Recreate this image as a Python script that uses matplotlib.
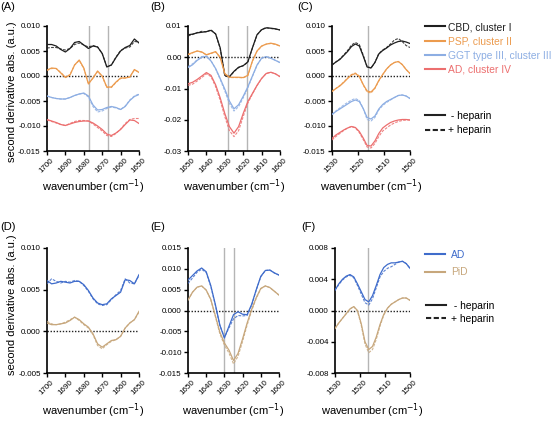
import matplotlib
matplotlib.use("Agg")
import matplotlib.pyplot as plt
from matplotlib.lines import Line2D

plt.rcParams['font.family'] = ['Liberation Sans', 'DejaVu Sans']
plt.rcParams['axes.unicode_minus'] = False

# ---------------- data ----------------
wn_amide = [1700, 1697.5, 1695, 1692.5, 1690, 1687.5, 1685, 1682.5, 1680, 1677.5, 1675,
            1672.5, 1670, 1667.5, 1665, 1662.5, 1660, 1657.5, 1655, 1652.5, 1650]
wn_beta = [1650, 1647.5, 1645, 1642.5, 1640, 1637.5, 1635, 1632.5, 1630, 1627.5, 1625,
           1622.5, 1620, 1617.5, 1615, 1612.5, 1610, 1607.5, 1605, 1602.5, 1600]
wn_tyr = [1530, 1528.5, 1527, 1525.5, 1524, 1522.5, 1521, 1519.5, 1518, 1516.5, 1515,
          1513.5, 1512, 1510.5, 1509, 1507.5, 1506, 1504.5, 1503, 1501.5, 1500]

# Panel A
A_cbd_m = [0.0063, 0.0063, 0.0060, 0.0053, 0.0048, 0.0055, 0.0067, 0.0069, 0.0062, 0.0055, 0.0060,
           0.0058, 0.0045, 0.0018, 0.0022, 0.0037, 0.0050, 0.0057, 0.0061, 0.0074, 0.0066]
A_cbd_p = [0.0056, 0.0057, 0.0057, 0.0054, 0.0052, 0.0055, 0.0063, 0.0066, 0.0062, 0.0058, 0.0061,
           0.0058, 0.0045, 0.0019, 0.0022, 0.0038, 0.0051, 0.0056, 0.0058, 0.0069, 0.0068]
A_psp_m = [0.0012, 0.0016, 0.0015, 0.0006, -0.0003, 0.0002, 0.0022, 0.0032, 0.0016, -0.0016, -0.0004,
           0.0010, 0.0000, -0.0022, -0.0022, -0.0012, -0.0004, -0.0004, -0.0002, 0.0013, 0.0007]
A_psp_p = [0.0011, 0.0015, 0.0015, 0.0007, -0.0002, 0.0003, 0.0022, 0.0031, 0.0015, -0.0015, -0.0004,
           0.0009, -0.0001, -0.0023, -0.0023, -0.0013, -0.0005, -0.0004, -0.0002, 0.0012, 0.0008]
A_ggt_m = [-0.0040, -0.0043, -0.0045, -0.0046, -0.0046, -0.0043, -0.0039, -0.0036, -0.0034, -0.0040, -0.0058,
           -0.0068, -0.0067, -0.0063, -0.0061, -0.0063, -0.0067, -0.0061, -0.0049, -0.0041, -0.0037]
A_ggt_p = [-0.0040, -0.0043, -0.0045, -0.0046, -0.0046, -0.0043, -0.0039, -0.0036, -0.0035, -0.0042, -0.0061,
           -0.0072, -0.0070, -0.0065, -0.0062, -0.0064, -0.0067, -0.0060, -0.0048, -0.0040, -0.0036]
A_ad_m = [-0.0087, -0.0090, -0.0093, -0.0097, -0.0099, -0.0096, -0.0093, -0.0091, -0.0090, -0.0090, -0.0094,
          -0.0100, -0.0107, -0.0116, -0.0119, -0.0114, -0.0107, -0.0097, -0.0088, -0.0089, -0.0095]
A_ad_p = [-0.0088, -0.0091, -0.0094, -0.0097, -0.0099, -0.0095, -0.0091, -0.0089, -0.0089, -0.0090, -0.0096,
          -0.0103, -0.0110, -0.0119, -0.0121, -0.0115, -0.0106, -0.0095, -0.0087, -0.0085, -0.0085]

# Panel B
B_cbd_m = [0.0072, 0.0074, 0.0078, 0.0080, 0.0082, 0.0086, 0.0075, 0.0030, -0.0058, -0.0062, -0.0045,
           -0.0032, -0.0027, -0.0015, 0.0030, 0.0072, 0.0088, 0.0094, 0.0093, 0.0091, 0.0087]
B_cbd_p = [0.0068, 0.0073, 0.0079, 0.0083, 0.0081, 0.0088, 0.0074, 0.0028, -0.0060, -0.0064, -0.0046,
           -0.0033, -0.0027, -0.0016, 0.0029, 0.0071, 0.0089, 0.0095, 0.0092, 0.0090, 0.0088]
B_psp_m = [0.0009, 0.0015, 0.0020, 0.0017, 0.0008, 0.0013, 0.0018, 0.0000, -0.0052, -0.0064, -0.0064,
           -0.0064, -0.0065, -0.0058, -0.0012, 0.0020, 0.0036, 0.0042, 0.0045, 0.0042, 0.0036]
B_psp_p = [0.0008, 0.0014, 0.0020, 0.0016, 0.0007, 0.0012, 0.0017, -0.0002, -0.0054, -0.0065, -0.0065,
           -0.0065, -0.0066, -0.0059, -0.0013, 0.0019, 0.0035, 0.0042, 0.0044, 0.0041, 0.0036]
B_ggt_m = [-0.0033, -0.0024, -0.0010, 0.0000, 0.0003, -0.0012, -0.0036, -0.0068, -0.0102, -0.0140, -0.0165,
           -0.0152, -0.0125, -0.0095, -0.0060, -0.0025, -0.0003, 0.0002, -0.0003, -0.0010, -0.0017]
B_ggt_p = [-0.0030, -0.0021, -0.0008, 0.0002, 0.0004, -0.0011, -0.0037, -0.0071, -0.0108, -0.0148, -0.0172,
           -0.0158, -0.0130, -0.0098, -0.0062, -0.0026, -0.0003, 0.0002, -0.0003, -0.0010, -0.0017]
B_ad_m = [-0.0085, -0.0080, -0.0071, -0.0060, -0.0049, -0.0058, -0.0088, -0.0130, -0.0180, -0.0222, -0.0243,
          -0.0222, -0.0180, -0.0142, -0.0116, -0.0090, -0.0068, -0.0052, -0.0048, -0.0053, -0.0062]
B_ad_p = [-0.0090, -0.0086, -0.0076, -0.0065, -0.0053, -0.0062, -0.0094, -0.0138, -0.0190, -0.0235, -0.0254,
          -0.0235, -0.0190, -0.0147, -0.0118, -0.0091, -0.0068, -0.0052, -0.0048, -0.0053, -0.0062]

# Panel C
C_cbd_m = [0.0022, 0.0028, 0.0033, 0.0041, 0.0049, 0.0059, 0.0064, 0.0060, 0.0040, 0.0018, 0.0016,
           0.0027, 0.0044, 0.0051, 0.0056, 0.0062, 0.0066, 0.0069, 0.0070, 0.0068, 0.0065]
C_cbd_p = [0.0022, 0.0028, 0.0034, 0.0042, 0.0051, 0.0062, 0.0067, 0.0063, 0.0042, 0.0019, 0.0016,
           0.0027, 0.0045, 0.0052, 0.0057, 0.0064, 0.0072, 0.0075, 0.0069, 0.0061, 0.0057]
C_psp_m = [-0.0031, -0.0025, -0.0020, -0.0013, -0.0005, 0.0002, 0.0005, -0.0001, -0.0017, -0.0030, -0.0032,
           -0.0024, -0.0009, 0.0003, 0.0014, 0.0022, 0.0027, 0.0029, 0.0023, 0.0013, 0.0005]
C_psp_p = [-0.0031, -0.0025, -0.0019, -0.0012, -0.0004, 0.0003, 0.0006, 0.0000, -0.0018, -0.0032, -0.0034,
           -0.0025, -0.0010, 0.0003, 0.0014, 0.0022, 0.0027, 0.0029, 0.0023, 0.0013, 0.0005]
C_ggt_m = [-0.0077, -0.0071, -0.0066, -0.0061, -0.0056, -0.0051, -0.0048, -0.0051, -0.0065, -0.0083, -0.0086,
           -0.0080, -0.0066, -0.0057, -0.0051, -0.0047, -0.0043, -0.0039, -0.0038, -0.0040, -0.0045]
C_ggt_p = [-0.0077, -0.0070, -0.0064, -0.0058, -0.0053, -0.0048, -0.0045, -0.0049, -0.0065, -0.0087, -0.0090,
           -0.0083, -0.0068, -0.0059, -0.0053, -0.0048, -0.0043, -0.0039, -0.0038, -0.0040, -0.0045]
C_ad_m = [-0.0125, -0.0118, -0.0113, -0.0108, -0.0104, -0.0101, -0.0103, -0.0111, -0.0124, -0.0139, -0.0140,
          -0.0130, -0.0115, -0.0104, -0.0098, -0.0093, -0.0090, -0.0088, -0.0087, -0.0087, -0.0088]
C_ad_p = [-0.0128, -0.0121, -0.0115, -0.0109, -0.0104, -0.0101, -0.0104, -0.0113, -0.0127, -0.0142, -0.0144,
          -0.0135, -0.0121, -0.0110, -0.0104, -0.0098, -0.0094, -0.0091, -0.0089, -0.0088, -0.0088]

# Panel D
D_ad_m = [0.0061, 0.0057, 0.0058, 0.0060, 0.0059, 0.0058, 0.0060, 0.0060, 0.0056, 0.0049, 0.0040,
          0.0034, 0.0032, 0.0033, 0.0039, 0.0043, 0.0047, 0.0062, 0.0061, 0.0057, 0.0068]
D_ad_p = [0.0057, 0.0063, 0.0060, 0.0058, 0.0060, 0.0059, 0.0061, 0.0060, 0.0055, 0.0048, 0.0039,
          0.0033, 0.0031, 0.0032, 0.0038, 0.0044, 0.0049, 0.0063, 0.0058, 0.0057, 0.0067]
D_pid_m = [0.0010, 0.0008, 0.0008, 0.0009, 0.0010, 0.0013, 0.0017, 0.0014, 0.0009, 0.0005, -0.0003,
           -0.0015, -0.0019, -0.0015, -0.0011, -0.0010, -0.0006, 0.0004, 0.0010, 0.0014, 0.0024]
D_pid_p = [0.0012, 0.0009, 0.0008, 0.0009, 0.0011, 0.0014, 0.0017, 0.0013, 0.0008, 0.0004, -0.0004,
           -0.0017, -0.0021, -0.0016, -0.0012, -0.0010, -0.0006, 0.0004, 0.0010, 0.0014, 0.0023]

# Panel E
E_ad_m = [0.0073, 0.0084, 0.0095, 0.0102, 0.0093, 0.0060, 0.0015, -0.0035, -0.0066, -0.0038, -0.0010,
          -0.0003, -0.0009, -0.0010, 0.0015, 0.0050, 0.0082, 0.0096, 0.0097, 0.0090, 0.0085]
E_ad_p = [0.0065, 0.0078, 0.0092, 0.0099, 0.0091, 0.0058, 0.0013, -0.0036, -0.0064, -0.0042, -0.0020,
          -0.0012, -0.0013, -0.0012, 0.0013, 0.0049, 0.0081, 0.0096, 0.0097, 0.0090, 0.0085]
E_pid_m = [0.0025, 0.0044, 0.0056, 0.0059, 0.0049, 0.0027, -0.0012, -0.0052, -0.0078, -0.0095, -0.0120,
           -0.0103, -0.0068, -0.0030, 0.0003, 0.0031, 0.0053, 0.0059, 0.0055, 0.0046, 0.0037]
E_pid_p = [0.0025, 0.0044, 0.0056, 0.0059, 0.0049, 0.0026, -0.0014, -0.0056, -0.0083, -0.0102, -0.0128,
           -0.0110, -0.0074, -0.0035, 0.0000, 0.0029, 0.0052, 0.0059, 0.0055, 0.0046, 0.0037]

# Panel F
F_ad_m = [0.0026, 0.0034, 0.0040, 0.0044, 0.0046, 0.0043, 0.0034, 0.0024, 0.0014, 0.0011, 0.0019,
          0.0032, 0.0046, 0.0055, 0.0059, 0.0061, 0.0061, 0.0062, 0.0063, 0.0060, 0.0054]
F_ad_p = [0.0026, 0.0033, 0.0039, 0.0043, 0.0045, 0.0042, 0.0032, 0.0021, 0.0010, 0.0007, 0.0015,
          0.0029, 0.0043, 0.0050, 0.0054, 0.0056, 0.0059, 0.0062, 0.0063, 0.0060, 0.0054]
F_pid_m = [-0.0023, -0.0016, -0.0010, -0.0004, 0.0002, 0.0005, 0.0000, -0.0017, -0.0040, -0.0050, -0.0046,
           -0.0034, -0.0018, -0.0005, 0.0003, 0.0008, 0.0011, 0.0014, 0.0016, 0.0016, 0.0013]
F_pid_p = [-0.0023, -0.0016, -0.0010, -0.0004, 0.0002, 0.0005, -0.0001, -0.0019, -0.0043, -0.0054, -0.0050,
           -0.0037, -0.0020, -0.0006, 0.0003, 0.0008, 0.0011, 0.0014, 0.0016, 0.0016, 0.0013]

top_labels = ["CBD, cluster I", "PSP, cluster II", "GGT type III, cluster III", "AD, cluster IV"]
bottom_labels = ["AD", "PiD"]
heparin_labels = [" - heparin", "+ heparin"]

top_colors = ["#1f1f1f", "#EC9B4E", "#8DAEE3", "#EC6F6F"]
bottom_colors = ["#3F6CCB", "#C7A77C"]

vlines_A = [1677, 1667]
vlines_B = [1628, 1618]
vlines_C = [1516]
vlines_E = [1630, 1625]
vlines_F = [1517]

# ---------------- figure ----------------
W, H = 558, 422
fig = plt.figure(figsize=(W / 100, H / 100), dpi=100)

TICK_FS = 5.8
LAB_FS = 8.0


def add_ax(x0, x1, y0, y1):
    return fig.add_axes([x0 / W, 1 - y1 / H, (x1 - x0) / W, (y1 - y0) / H])


def style(ax, xlim, xticks, ylim, yticks, yfmt, lpad):
    ax.set_xlim(*xlim)
    ax.set_ylim(*ylim)
    ax.set_xticks(xticks)
    ax.set_xticklabels([str(t) for t in xticks], rotation=45, fontsize=TICK_FS)
    ax.set_yticks(yticks)
    ax.set_yticklabels([yfmt.format(t) for t in yticks], fontsize=TICK_FS)
    for s in ["top", "right"]:
        ax.spines[s].set_visible(False)
    for s in ["left", "bottom"]:
        ax.spines[s].set_linewidth(1.2)
    ax.tick_params(width=1.0, length=3, pad=1.5)
    ax.axhline(0, color="#222222", lw=1.0, ls=(0, (1, 1.2)), zorder=1)
    ax.set_xlabel("wavenumber (cm$^{-1}$)", fontsize=LAB_FS, labelpad=lpad)


def draw(ax, wn, pairs, colors, vl):
    for v in vl:
        ax.axvline(v, color="#b5b5b5", lw=1.0, zorder=0)
    for (m, p), c in zip(pairs, colors):
        ax.plot(wn, m, color=c, lw=0.9, zorder=3)
        ax.plot(wn, p, color=c, lw=0.8, ls=(0, (2.5, 1.2)), zorder=3, alpha=0.85)


TOP_PAD = 1.5
BOT_PAD = 3.5

axA = add_ax(47, 139, 26, 151)
draw(axA, wn_amide, [(A_cbd_m, A_cbd_p), (A_psp_m, A_psp_p), (A_ggt_m, A_ggt_p), (A_ad_m, A_ad_p)],
     top_colors, vlines_A)
style(axA, (1700, 1650), [1700, 1690, 1680, 1670, 1660, 1650], (-0.015, 0.010),
      [0.010, 0.005, 0.000, -0.005, -0.010, -0.015], "{:.3f}", TOP_PAD)

axB = add_ax(188, 280, 26, 151)
draw(axB, wn_beta, [(B_cbd_m, B_cbd_p), (B_psp_m, B_psp_p), (B_ggt_m, B_ggt_p), (B_ad_m, B_ad_p)],
     top_colors, vlines_B)
style(axB, (1650, 1600), [1650, 1640, 1630, 1620, 1610, 1600], (-0.03, 0.01),
      [0.01, 0.00, -0.01, -0.02, -0.03], "{:.2f}", TOP_PAD)

axC = add_ax(332, 410, 26, 151)
draw(axC, wn_tyr, [(C_cbd_m, C_cbd_p), (C_psp_m, C_psp_p), (C_ggt_m, C_ggt_p), (C_ad_m, C_ad_p)],
     top_colors, vlines_C)
style(axC, (1530, 1500), [1530, 1520, 1510, 1500], (-0.015, 0.010),
      [0.010, 0.005, 0.000, -0.005, -0.010, -0.015], "{:.3f}", TOP_PAD)

axD = add_ax(47, 139, 248, 373)
draw(axD, wn_amide, [(D_ad_m, D_ad_p), (D_pid_m, D_pid_p)], bottom_colors, [])
style(axD, (1700, 1650), [1700, 1690, 1680, 1670, 1660, 1650], (-0.005, 0.010),
      [0.010, 0.005, 0.000, -0.005], "{:.3f}", BOT_PAD)

axE = add_ax(188, 279, 248, 373)
draw(axE, wn_beta, [(E_ad_m, E_ad_p), (E_pid_m, E_pid_p)], bottom_colors, vlines_E)
style(axE, (1650, 1600), [1650, 1640, 1630, 1620, 1610, 1600], (-0.015, 0.015),
      [0.015, 0.010, 0.005, 0.000, -0.005, -0.010, -0.015], "{:.3f}", BOT_PAD)

axF = add_ax(335, 410, 248, 373)
draw(axF, wn_tyr, [(F_ad_m, F_ad_p), (F_pid_m, F_pid_p)], bottom_colors, vlines_F)
style(axF, (1530, 1500), [1530, 1520, 1510, 1500], (-0.008, 0.008),
      [0.008, 0.004, 0.000, -0.004, -0.008], "{:.3f}", BOT_PAD)

fig.text(12 / W, 1 - 92 / H, "second derivative abs. (a.u.)", rotation=90, fontsize=8.0,
         ha="center", va="center")
fig.text(12 / W, 1 - 305 / H, "second derivative abs. (a.u.)", rotation=90, fontsize=8.0,
         ha="center", va="center")

for lab, (x, y) in zip(["(A)", "(B)", "(C)", "(D)", "(E)", "(F)"],
                       [(0, 7), (150, 7), (297, 7), (0, 227), (150, 227), (301, 227)]):
    fig.text(x / W, 1 - y / H, lab, fontsize=8, ha="left", va="center")

# legends
LEG_FS = 7.4
h_top = [Line2D([], [], color=c, lw=1.5) for c in top_colors]
leg1 = fig.legend(h_top, top_labels, loc="upper left", bbox_to_anchor=(425 / W, 1 - 22 / H),
                  frameon=False, fontsize=LEG_FS, handlelength=1.9, handletextpad=0.3,
                  labelspacing=0.42, borderpad=0, borderaxespad=0)
for t, c in zip(leg1.get_texts(), top_colors):
    t.set_color(c)
h_hep = [Line2D([], [], color="#222222", lw=1.5),
         Line2D([], [], color="#222222", lw=1.5, ls=(0, (2.5, 1.2)))]
fig.legend(h_hep, heparin_labels, loc="upper left", bbox_to_anchor=(425 / W, 1 - 111 / H),
           frameon=False, fontsize=LEG_FS, handlelength=1.9, handletextpad=0.3,
           labelspacing=0.4, borderpad=0, borderaxespad=0)

h_bot = [Line2D([], [], color=c, lw=1.5) for c in bottom_colors]
leg3 = fig.legend(h_bot, bottom_labels, loc="upper left", bbox_to_anchor=(425 / W, 1 - 250 / H),
                  frameon=False, fontsize=LEG_FS, handlelength=1.9, handletextpad=0.6,
                  labelspacing=0.7, borderpad=0, borderaxespad=0)
for t, c in zip(leg3.get_texts(), bottom_colors):
    t.set_color(c)
fig.legend(h_hep, [" - heparin", "+ heparin"], loc="upper left", bbox_to_anchor=(426 / W, 1 - 301 / H),
           frameon=False, fontsize=LEG_FS, handlelength=1.9, handletextpad=0.5,
           labelspacing=0.25, borderpad=0, borderaxespad=0)

fig.savefig("out.png", dpi=100)
